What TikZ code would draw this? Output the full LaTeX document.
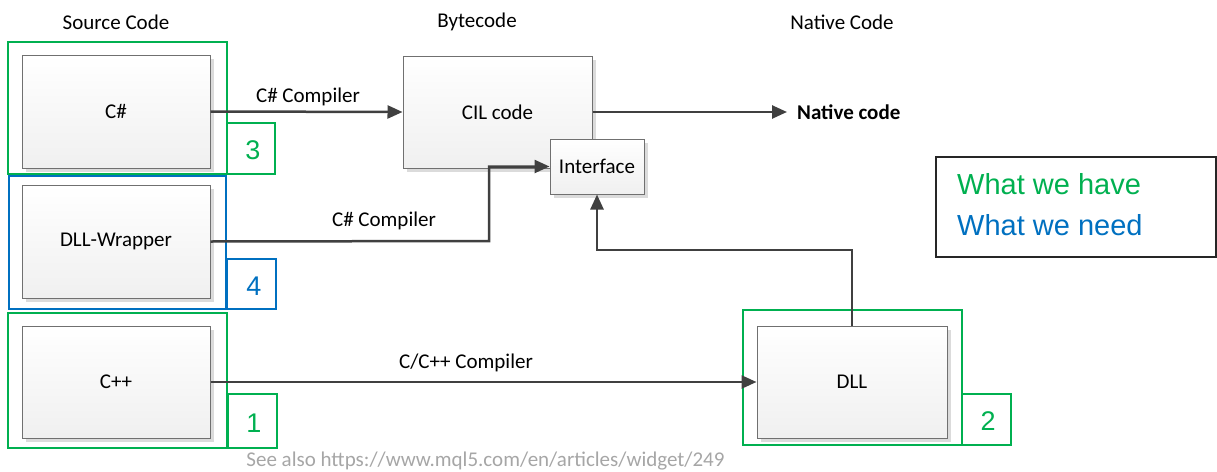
\documentclass[tikz,border=0pt]{standalone}
\usepackage{fontspec}
\setmainfont{Carlito}
\newfontfamily\arialf{Liberation Sans}
\usetikzlibrary{arrows.meta,shadows}
\definecolor{mygreen}{HTML}{00B050}
\definecolor{myblue}{HTML}{0070C0}
\definecolor{lineclr}{HTML}{404040}
\definecolor{boxborder}{HTML}{707070}
\definecolor{footgray}{HTML}{A6A6A6}
\tikzset{
  codebox/.style={draw=boxborder, line width=1pt, top color=white, bottom color=black!6,
    drop shadow={shadow xshift=4pt, shadow yshift=-4pt, fill=black!14, opacity=1},
    font=\fontsize{21}{25}\selectfont, inner sep=0pt},
  conn/.style={draw=lineclr, line width=2.5pt},
  arr/.style={conn, -{Triangle[length=15pt,width=13pt]}},
  lbl/.style={font=\fontsize{21}{25}\selectfont, inner sep=0pt},
  gframe/.style={draw=mygreen, line width=2pt},
  bframe/.style={draw=myblue, line width=2pt},
  gtag/.style={draw=mygreen, line width=1.6pt},
  btag/.style={draw=myblue, line width=1.6pt},
  digit/.style={font=\arialf\fontsize{27}{30}\selectfont, inner sep=0pt},
  legtxt/.style={font=\arialf\fontsize{29}{32}\selectfont, inner sep=0pt, anchor=west}
}
\begin{document}
\begin{tikzpicture}[x=1pt,y=-1pt]
\useasboundingbox (0,0) rectangle (1217,471);
% headers
\node[lbl] (hsrc) at (116,22) {Source Code};
\node[lbl] (hbyte) at (477,22) {Bytecode};
\node[lbl] (hnat) at (842,22) {Native Code};
% frames
\draw[gframe] (8,42) rectangle (227,174);
\draw[gtag] (227,123) rectangle (275,174);
\node[digit, text=mygreen] (d3) at (253,150) {3};
\draw[bframe] (9,176) rectangle (226,309);
\draw[btag] (227,259) rectangle (276,309);
\node[digit, text=myblue] (d4) at (254,286) {4};
\draw[gframe] (8,313) rectangle (227,448);
\draw[gtag] (228,394) rectangle (277,448);
\node[digit, text=mygreen] (d1) at (254,423) {1};
\draw[gframe] (743,310) rectangle (962,445);
\draw[gtag] (962,394) rectangle (1011,445);
\node[digit, text=mygreen] (d2) at (988,421) {2};
% boxes
\node[codebox, minimum width=188pt, minimum height=113pt] (cs) at (116,111.5) {C\#};
\node[codebox, minimum width=188pt, minimum height=113pt] (wrap) at (116,241.5) {DLL-Wrapper};
\node[codebox, minimum width=188pt, minimum height=112pt] (cpp) at (116,382) {C++};
\node[codebox, minimum width=189pt, minimum height=112pt] (cil) at (497.5,112) {CIL code};
\node[codebox, minimum width=94pt, minimum height=55pt] (iface) at (597,166.5) {Interface};
\node[codebox, minimum width=190pt, minimum height=112pt] (dll) at (852,382) {DLL};
% native code text
\node[lbl, anchor=west, font=\fontsize{21}{25}\selectfont\bfseries] (nat) at (797,112) {Native code};
% connectors
\coordinate (wbend) at (489,241);
\coordinate (dbend) at (852,250);
\draw[arr] (cs.east) -- (cil.west);
\draw[arr] (cil.east) -- ([xshift=-10pt]nat.west);
\draw[arr] (wrap.east) -- (wbend) |- (iface.west);
\draw[arr] (dll.north) -- (dbend) -| (iface.south);
\draw[arr] (cpp.east) -- (dll.west);
% connector labels
\node[lbl] (l1) at (308,97) {C\# Compiler};
\node[lbl] (l2) at (384,221) {C\# Compiler};
\node[lbl] (l3) at (466,363) {C/C++ Compiler};
% legend
\draw[draw=black!85, line width=1.5pt] (936,157) rectangle (1216,257);
\node[legtxt, text=mygreen] (have) at (957,184) {What we have};
\node[legtxt, text=myblue] (need) at (957,225) {What we need};
% footnote
\node[lbl, text=footgray] (foot) at (485.5,461) {See also https://www.mql5.com/en/articles/widget/249};
\end{tikzpicture}
\end{document}
